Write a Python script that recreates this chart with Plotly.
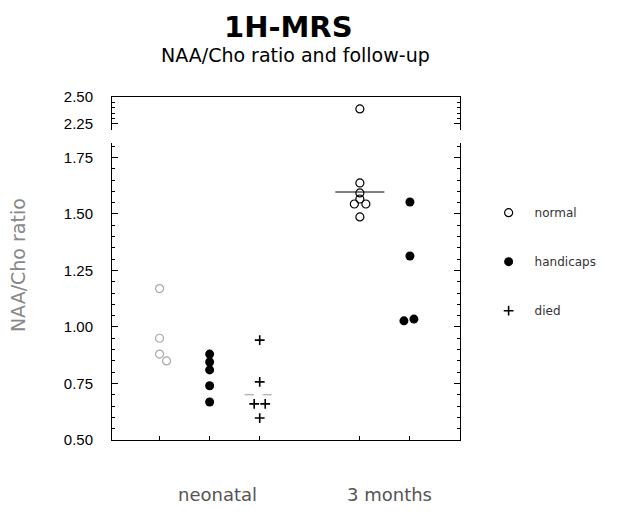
import plotly.graph_objects as go

# ---- data ----
periods = ["neonatal", "3 months"]
outcomes = ["normal", "handicaps", "died"]

neo_normal = [1.17, 0.95, 0.88, 0.85]
neo_normal_jit = [0.0, 0.0, 0.0, 0.14]

neo_handicaps = [0.88, 0.845, 0.81, 0.74, 0.668]
neo_handicaps_jit = [0, 0, 0, 0, 0]

neo_died = [0.942, 0.757, 0.66, 0.66, 0.597]
neo_died_jit = [0, 0, -0.11, 0.11, 0]
neo_died_median = 0.70

m3_normal = [2.39, 1.637, 1.593, 1.566, 1.544, 1.544, 1.487]
m3_normal_jit = [0, 0, 0, 0, -0.11, 0.12, 0]
m3_normal_median = 1.597

m3_handicaps = [1.553, 1.314, 1.027, 1.035]
m3_handicaps_jit = [0, 0, -0.12, 0.08]

yticks_low = [0.50, 0.75, 1.00, 1.25, 1.50, 1.75]
yticks_high = [2.25, 2.50]

# ---- layout helpers ----
pos = {("neonatal", "normal"): 1, ("neonatal", "handicaps"): 2, ("neonatal", "died"): 3,
       ("3 months", "normal"): 5, ("3 months", "handicaps"): 6}
BREAK = 2.0
FONT = "Liberation Sans, Arial"
WIDE = "DejaVu Sans, Verdana"

styles = {
    "normal": dict(symbol="circle-open", size=8, color="black", line=dict(width=1.2, color="black")),
    "handicaps": dict(symbol="circle", size=9, color="black"),
    "died": dict(symbol="cross-thin", size=7, color="black", line=dict(width=1.6, color="black")),
}

fig = go.Figure()

def add(period, outcome, vals, jit, color=None):
    base = pos[(period, outcome)]
    xs = [base + j for j in jit]
    mk = dict(styles[outcome])
    if color:
        mk["color"] = color
        if "line" in mk:
            mk["line"] = dict(mk["line"], color=color)
    lo = [(x, v) for x, v in zip(xs, vals) if v < BREAK]
    hi = [(x, v) for x, v in zip(xs, vals) if v >= BREAK]
    fig.add_trace(go.Scatter(x=[p[0] for p in lo], y=[p[1] for p in lo], mode="markers",
                             marker=mk, xaxis="x", yaxis="y", name=outcome,
                             showlegend=False, hoverinfo="skip"))
    if hi:
        fig.add_trace(go.Scatter(x=[p[0] for p in hi], y=[p[1] for p in hi], mode="markers",
                                 marker=mk, xaxis="x", yaxis="y2", showlegend=False,
                                 hoverinfo="skip"))

add("neonatal", "normal", neo_normal, neo_normal_jit, color="#a8a8a8")
add("neonatal", "handicaps", neo_handicaps, neo_handicaps_jit)
add("neonatal", "died", neo_died, neo_died_jit)
add("3 months", "normal", m3_normal, m3_normal_jit)
add("3 months", "handicaps", m3_handicaps, m3_handicaps_jit)

# median lines
def median_line(period, outcome, value, half, color, dash):
    b = pos[(period, outcome)]
    fig.add_trace(go.Scatter(x=[b - half, b + half], y=[value, value], mode="lines",
                             line=dict(color=color, width=1, dash=dash),
                             showlegend=False, hoverinfo="skip", xaxis="x", yaxis="y"))

median_line("neonatal", "died", neo_died_median, 0.3, "#999999", "dash")
median_line("3 months", "normal", m3_normal_median, 0.49, "black", "solid")

# legend entries
for o in outcomes:
    fig.add_trace(go.Scatter(x=[None], y=[None], mode="markers", marker=styles[o],
                             name=o, legendgroup=o, showlegend=True, xaxis="x", yaxis="y"))

axis_common = dict(showline=True, linecolor="black", linewidth=1, mirror="ticks",
                   ticks="inside", ticklen=6, tickcolor="black", showgrid=False,
                   zeroline=False, ticklabelstandoff=15,
                   tickfont=dict(family=FONT, size=15, color="black"),
                   minor=dict(ticks="inside", ticklen=3, dtick=0.05, tickcolor="black", showgrid=False))

# page body has an 8px margin: shift figure so the plot area lands at x 112-460, y 97-440
fig.update_layout(
    width=623, height=511,
    margin=dict(l=104, r=171, t=89, b=79),
    paper_bgcolor="white", plot_bgcolor="white",
    xaxis=dict(range=[0.05, 7.0], showline=True, linecolor="black", linewidth=1,
               ticks="inside", ticklen=4, tickcolor="black",
               tickvals=[1, 2, 3, 5, 6], showticklabels=False, showgrid=False, zeroline=False),
    yaxis=dict(domain=[0, 0.866], range=[0.5, 1.814], tickvals=yticks_low,
               ticktext=[f"{v:.2f}" for v in yticks_low], **axis_common),
    yaxis2=dict(domain=[0.904, 1.0], range=[2.195, 2.50], tickvals=yticks_high,
                ticktext=[f"{v:.2f}" for v in yticks_high], anchor="x", **axis_common),
    xaxis2=dict(overlaying="x", anchor="y2", side="top", range=[0.05, 7.0],
                showline=True, linecolor="black", showticklabels=False,
                ticks="", showgrid=False, zeroline=False),
    showlegend=True,
    legend=dict(x=1.065, y=0.705, xanchor="left", yanchor="top", tracegroupgap=30,
                font=dict(family=WIDE, size=12, color="#333"),
                bgcolor="rgba(0,0,0,0)", itemwidth=42),
    font=dict(family=FONT, color="black"),
)
fig.add_trace(go.Scatter(x=[None], y=[None], xaxis="x2", yaxis="y2", showlegend=False))

# texts
fig.add_annotation(text="<b>1H-MRS</b>", xref="paper", yref="paper", x=0.507, y=1.205,
                   xanchor="center", yanchor="middle", showarrow=False,
                   font=dict(size=29, family=WIDE))
fig.add_annotation(text="NAA/Cho ratio and follow-up", xref="paper", yref="paper", x=0.527, y=1.122,
                   xanchor="center", yanchor="middle", showarrow=False,
                   font=dict(size=19, family=WIDE))
fig.add_annotation(text="NAA/Cho ratio", xref="paper", yref="paper", x=-0.27, y=0.51,
                   xanchor="center", yanchor="middle", textangle=-90, showarrow=False,
                   font=dict(size=19, family=WIDE, color="#888"))
for p, xc in zip(periods, [2.15, 5.6]):
    fig.add_annotation(text=p, xref="x", yref="paper", x=xc, y=-0.16,
                       xanchor="center", yanchor="middle", showarrow=False,
                       font=dict(size=18, family=WIDE, color="#555"))

fig.write_html("out.html")
